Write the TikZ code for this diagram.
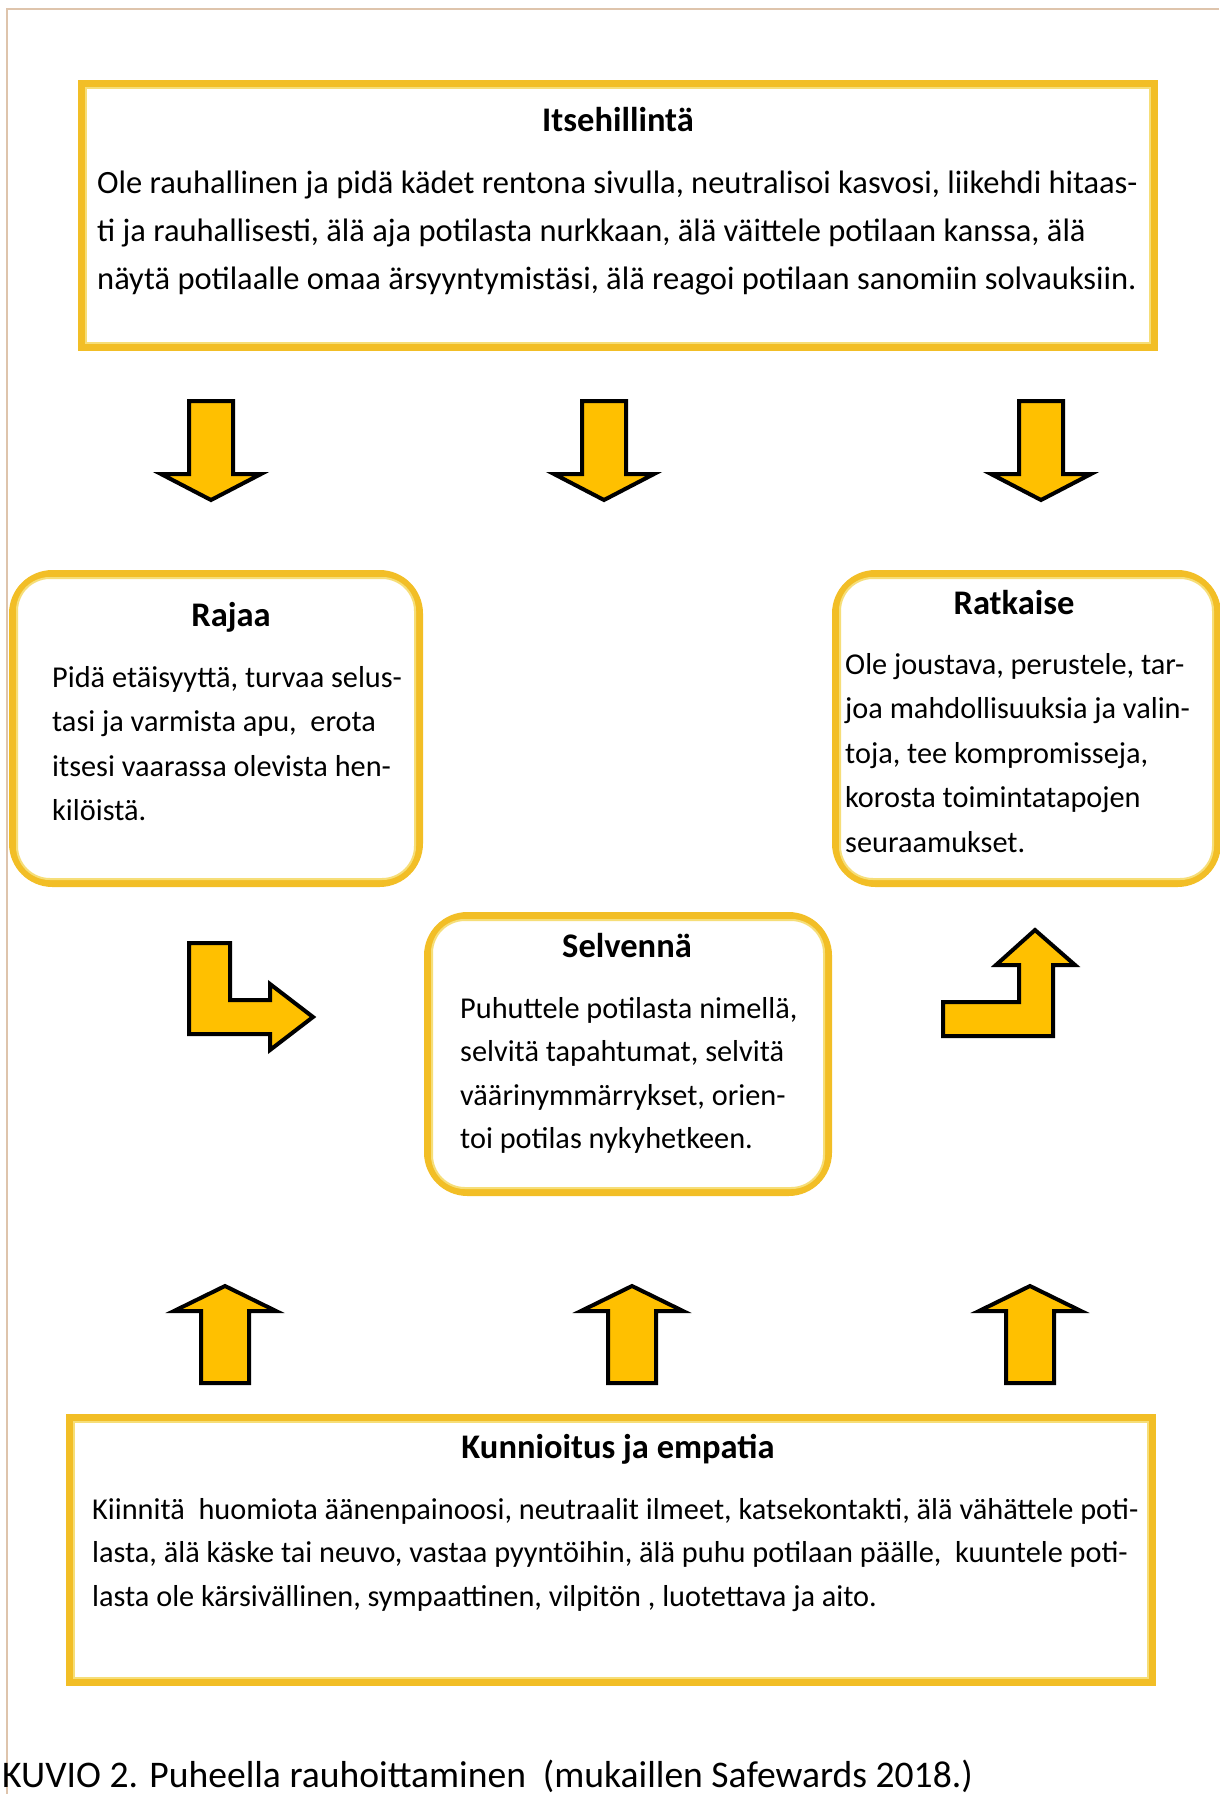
\documentclass[tikz,border=0pt]{standalone}
\usepackage{fontspec}
\setmainfont{Carlito}
\usetikzlibrary{positioning}

\definecolor{framegold}{RGB}{242,190,38}
\definecolor{palegold}{RGB}{246,222,120}
\definecolor{arrowgold}{RGB}{255,192,0}
\definecolor{pageline}{RGB}{222,196,172}

\begin{document}
\begin{tikzpicture}[x=1pt, y=-1pt,
    boxframe/.style={draw=framegold, line width=7pt, rectangle, fill=white},
    roundframe/.style={boxframe, rounded corners=40pt},
    innerline/.style={draw=palegold, line width=2pt},
    titletext/.style={font=\fontsize{34.5}{40}\selectfont\bfseries, inner sep=0pt},
    bodytext/.style={font=\fontsize{30.3}{44.5}\selectfont, align=left, anchor=north west, inner sep=0pt},
    blockarrow/.style={draw=black, line width=4pt, fill=arrowgold}]

    \useasboundingbox (0,0) rectangle (1219,1794);
    % page frame
    \draw[pageline, line width=1.5pt] (7,1794) -- (7,9) -- (1219,9);

    % Itsehillinta
    \node[boxframe, minimum width=1073pt, minimum height=264pt] (itse) at (618,215.5) {};
    \draw[innerline] ([shift={(8,8)}]itse.north west) rectangle ([shift={(-8,-8)}]itse.south east);
    \node[titletext] (itsetitle) at (618,120) {Itsehillintä};
    \node[bodytext, font=\fontsize{32.5}{48}\selectfont] (itsetext) at (97,171) {Ole rauhallinen ja pidä kädet rentona sivulla, neutralisoi kasvosi, liikehdi hitaas-\\ti ja rauhallisesti, älä aja potilasta nurkkaan, älä väittele potilaan kanssa, älä\\näytä potilaalle omaa ärsyyntymistäsi, älä reagoi potilaan sanomiin solvauksiin.};

    % Rajaa
    \node[roundframe, minimum width=407pt, minimum height=310pt] (rajaa) at (216,728.5) {};
    \draw[innerline, rounded corners=33pt] ([shift={(8,8)}]rajaa.north west) rectangle ([shift={(-8,-8)}]rajaa.south east);
    \node[titletext] (rajaatitle) at (231,617) {Rajaa};
    \node[bodytext] (rajaatext) at (52,666) {Pidä etäisyyttä, turvaa selus-\\tasi ja varmista apu,~ erota\\itsesi vaarassa olevista hen-\\kilöistä.};

    % Ratkaise
    \node[roundframe, minimum width=382pt, minimum height=310pt] (ratkaise) at (1026.5,728.5) {};
    \draw[innerline, rounded corners=33pt] ([shift={(8,8)}]ratkaise.north west) rectangle ([shift={(-8,-8)}]ratkaise.south east);
    \node[titletext] (ratkaisetitle) at (1014,603) {Ratkaise};
    \node[bodytext] (ratkaisetext) at (845,653) {Ole joustava, perustele, tar-\\joa mahdollisuuksia ja valin-\\toja, tee kompromisseja,\\korosta toimintatapojen\\seuraamukset.};

    % Selvenna
    \node[roundframe, minimum width=401pt, minimum height=277pt] (selvenna) at (628,1054) {};
    \draw[innerline, rounded corners=33pt] ([shift={(8,8)}]selvenna.north west) rectangle ([shift={(-8,-8)}]selvenna.south east);
    \node[titletext] (selvennatitle) at (627,946) {Selvennä};
    \node[bodytext, font=\fontsize{30.3}{43.5}\selectfont] (selvennatext) at (460,997) {Puhuttele potilasta nimellä,\\selvitä tapahtumat, selvitä\\väärinymmärrykset, orien-\\toi potilas nykyhetkeen.};

    % Kunnioitus ja empatia
    \node[boxframe, minimum width=1083pt, minimum height=265pt] (kunnioitus) at (611,1550) {};
    \draw[innerline] ([shift={(8,8)}]kunnioitus.north west) rectangle ([shift={(-8,-8)}]kunnioitus.south east);
    \node[titletext] (kunnioitustitle) at (618,1449) {Kunnioitus ja empatia};
    \node[bodytext, font=\fontsize{30.3}{43.5}\selectfont] (kunnioitustext) at (92,1498) {Kiinnitä~ huomiota äänenpainoosi, neutraalit ilmeet, katsekontakti, älä vähättele poti-\\lasta, älä käske tai neuvo, vastaa pyyntöihin, älä puhu potilaan päälle,~ kuuntele poti-\\lasta ole kärsivällinen, sympaattinen, vilpitön , luotettava ja aito.};

    % arrows down from the top box
    \foreach \cx in {211,604,1041}
        \draw[blockarrow] (\cx-22,401) -- (\cx+22,401) -- (\cx+22,474) -- (\cx+50,474) -- (\cx,500) -- (\cx-50,474) -- (\cx-22,474) -- cycle;

    % arrows up from the bottom box
    \foreach \cx in {225,632,1030}
        \draw[blockarrow] (\cx-24,1383) -- (\cx+24,1383) -- (\cx+24,1311) -- (\cx+51,1311) -- (\cx,1286) -- (\cx-51,1311) -- (\cx-24,1311) -- cycle;

    % bent arrows round Selvenna
    \draw[blockarrow] (189,943) -- (230,943) -- (230,1000) -- (270,1000) -- (270,984) -- (313,1017) -- (270,1050) -- (270,1034) -- (189,1034) -- cycle;
    \draw[blockarrow] (943,1002) -- (1019,1002) -- (1019,965) -- (996,965) -- (1035,930) -- (1075,965) -- (1053,965) -- (1053,1036) -- (943,1036) -- cycle;

    % caption
    \node[font=\fontsize{37.6}{44}\selectfont, anchor=base west, inner sep=0pt] (kuvio) at (2,1787) {KUVIO 2. Puheella rauhoittaminen~ (mukaillen Safewards 2018.)};
\end{tikzpicture}
\end{document}
